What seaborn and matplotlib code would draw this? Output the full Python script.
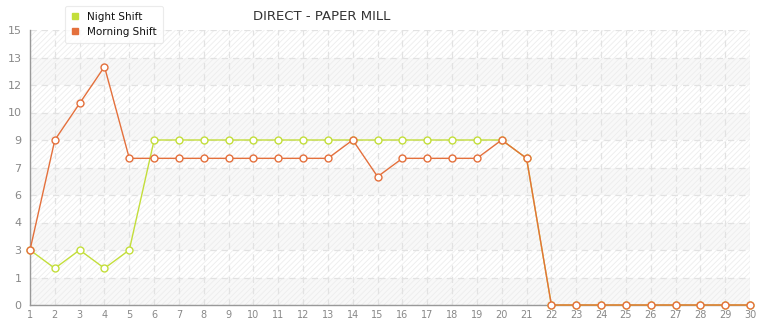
import numpy as np
import pandas as pd
import matplotlib
matplotlib.use("Agg")
import matplotlib.pyplot as plt
import seaborn as sns
from matplotlib.ticker import FixedLocator, FuncFormatter
from matplotlib.patches import Rectangle
from matplotlib.lines import Line2D

days = list(range(1, 31))
night_shift = [3, 2, 3, 2, 3, 9, 9, 9, 9, 9, 9, 9, 9, 9, 9, 9, 9, 9, 9, 9, 8, 0, 0, 0, 0, 0, 0, 0, 0, 0]
morning_shift = [3, 9, 11, 13, 8, 8, 8, 8, 8, 8, 8, 8, 8, 9, 7, 8, 8, 8, 8, 9, 8, 0, 0, 0, 0, 0, 0, 0, 0, 0]
series_names = ["Night Shift", "Morning Shift"]
colors = {"Night Shift": "#c3de3a", "Morning Shift": "#e4703c"}
title = "DIRECT - PAPER MILL"

df = pd.concat([
    pd.DataFrame({"day": days, "value": night_shift, "series": "Night Shift"}),
    pd.DataFrame({"day": days, "value": morning_shift, "series": "Morning Shift"}),
])

sns.set_style("white")
plt.rcParams["font.family"] = ["DejaVu Sans"]
plt.rcParams["hatch.linewidth"] = 0.6
plt.rcParams["hatch.color"] = "#ededed"

fig = plt.figure(figsize=(7.65, 3.2), dpi=100)
ax = fig.add_axes([30 / 765, 15 / 320, 720 / 765, 275 / 320])
ax.set_xlim(1, 30)
ax.set_ylim(0, 15)

# background bands + hatching
for lo in [0, 3, 6, 9, 12]:
    ax.axhspan(lo, lo + 1.5, color="#f8f8f8", lw=0, zorder=0)
ax.add_patch(Rectangle((0, 0), 1, 1, transform=ax.transAxes, facecolor="none",
                       edgecolor="#ededed", hatch="//////", lw=0, zorder=0.5))

yt = np.arange(0, 15.01, 1.5)
ax.yaxis.set_major_locator(FixedLocator(yt))
ax.yaxis.set_major_formatter(FuncFormatter(lambda v, p: str(int(v))))
ax.set_xticks(days)
ax.grid(True, color="#e2e2e2", linestyle=(0, (5, 4)), lw=0.9, zorder=1)
ax.set_axisbelow(True)

for name in series_names:
    sub = df[df["series"] == name]
    sns.lineplot(data=sub, x="day", y="value", ax=ax, color=colors[name],
                 lw=1.0, marker="o", markersize=5, markerfacecolor="white",
                 markeredgecolor=colors[name], markeredgewidth=1.0,
                 legend=False, zorder=3, clip_on=False)

for s in ["top", "right"]:
    ax.spines[s].set_visible(False)
for s in ["left", "bottom"]:
    ax.spines[s].set_color("#999999")
    ax.spines[s].set_linewidth(1.0)
ax.tick_params(axis="both", which="both", direction="out", length=4, width=1,
               color="#999999", labelcolor="#888888", labelsize=8)
ax.tick_params(axis="y", pad=2)
ax.tick_params(axis="x", pad=0.5, length=3, labelsize=7)
ax.set_xlabel("")
ax.set_ylabel("")

fig.text(322 / 765, 1 - 17 / 320, title, ha="center", va="center",
         fontsize=9.5, color="#333333")

handles = [Line2D([], [], marker="s", color="none", markerfacecolor=colors[n],
                  markeredgecolor=colors[n], markersize=4.5, lw=0) for n in series_names]
leg = fig.legend(handles, series_names, loc="lower left",
                 bbox_to_anchor=(65 / 765, 1 - 43 / 320), fontsize=7.5,
                 frameon=True, fancybox=True, handlelength=0.8, handletextpad=0.7,
                 labelspacing=0.45, borderpad=0.6, borderaxespad=0)
leg.get_frame().set_edgecolor("#e6e6e6")
leg.get_frame().set_linewidth(0.8)
for t in leg.get_texts():
    t.set_color("#111111")

fig.savefig("out.png", dpi=100)
